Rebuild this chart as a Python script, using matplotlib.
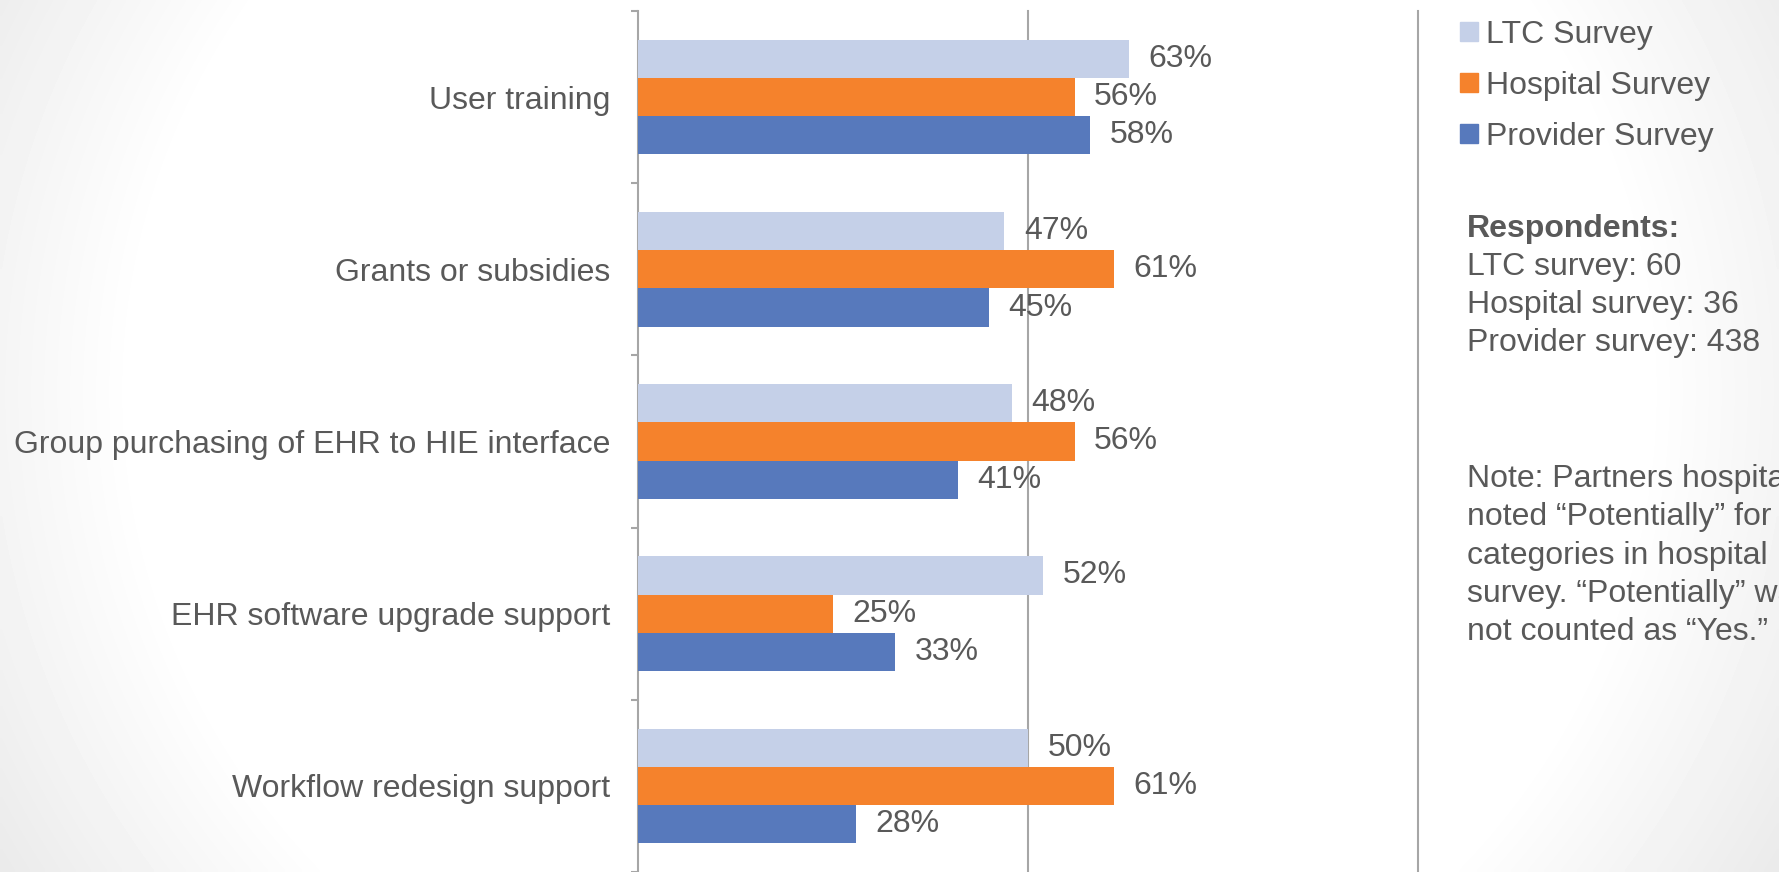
import numpy as np
import matplotlib
matplotlib.use("Agg")
import matplotlib.pyplot as plt
from matplotlib.patches import Patch

plt.rcParams['font.family'] = ['Liberation Sans', 'DejaVu Sans']

# data (percent of respondents)
categories = ["User training", "Grants or subsidies", "Group purchasing of EHR to HIE interface",
              "EHR software upgrade support", "Workflow redesign support"]
ltc = [63, 47, 48, 52, 50]
hospital = [56, 61, 56, 25, 61]
provider = [58, 45, 41, 33, 28]
series_names = ["LTC Survey", "Hospital Survey", "Provider Survey"]
respondents = ["LTC survey: 60", "Hospital survey: 36", "Provider survey: 438"]
note_lines = ["Note: Partners hospitals", "noted \u201cPotentially\u201d for all",
              "categories in hospital", "survey. \u201cPotentially\u201d was",
              "not counted as \u201cYes.\u201d"]

col_ltc = "#C5D0E8"
col_hosp = "#F5822C"
col_prov = "#5779BC"
txt = "#595959"
grid_col = "#A6A6A6"
fs = 23

fig = plt.figure(figsize=(17.79, 8.72), dpi=100)

# soft grey vignette in the background
bg = fig.add_axes([0, 0, 1, 1], zorder=-10)
gx, gy = np.meshgrid(np.linspace(0, 1, 400), np.linspace(0, 1, 200))
d = np.sqrt(((gx - 0.5) / 0.5) ** 2 + ((gy - 0.45) / 0.95) ** 2)
g = 1 - 0.08 * np.clip((d - 0.85) / 0.3, 0, 1)
bg.imshow(g, cmap="gray", vmin=0, vmax=1, extent=[0, 1, 0, 1], aspect="auto", interpolation="bilinear")
bg.axis("off")

ax = fig.add_axes([0.3585, 0.0, 0.797 - 0.3585, 0.9874])
ax.patch.set_alpha(0)

y = np.arange(len(categories))
h = 0.222
b1 = ax.barh(y - h, ltc, height=h, color=col_ltc, zorder=3)
b2 = ax.barh(y, hospital, height=h, color=col_hosp, zorder=3)
b3 = ax.barh(y + h, provider, height=h, color=col_prov, zorder=3)
for b in (b1, b2, b3):
    ax.bar_label(b, fmt="%d%%", padding=14, color=txt, fontsize=fs, zorder=5)

ax.set_xlim(0, 100)
ax.set_ylim(len(categories) - 0.5, -0.5)

for xv in (50, 100):
    ax.axvline(xv, color=grid_col, lw=1.5, zorder=1, clip_on=False)

for s in ("top", "right", "bottom"):
    ax.spines[s].set_visible(False)
ax.spines["left"].set_color(grid_col)
ax.spines["left"].set_linewidth(1.5)
ax.set_xticks([])

ax.set_yticks(np.arange(-0.5, len(categories), 1.0))
ax.set_yticklabels([])
ax.tick_params(axis="y", which="major", length=5, width=1.5, color=grid_col, direction="out")
ax.set_yticks(y, minor=True)
ax.set_yticklabels(categories, minor=True)
ax.tick_params(axis="y", which="minor", length=0, pad=20, labelsize=fs, labelcolor=txt)

handles = [Patch(color=col_ltc), Patch(color=col_hosp), Patch(color=col_prov)]
fig.legend(handles, series_names, loc="upper left", bbox_to_anchor=(1460 / 1779, 1 - 20 / 872),
           frameon=False, fontsize=fs, labelcolor=txt, handlelength=0.55, handleheight=0.55,
           handletextpad=0.25, labelspacing=0.66, borderpad=0, borderaxespad=0)

tx = 1467 / 1779
fig.text(tx, 1 - 229 / 872, "Respondents:", fontsize=fs, color=txt, weight="bold", va="center")
for i, line in enumerate(respondents):
    fig.text(tx, 1 - (267 + 38 * i) / 872, line, fontsize=fs, color=txt, va="center")
# the note runs past the right edge of the slide, as in the original
for i, line in enumerate(note_lines):
    fig.text(tx, 1 - (479 + 38.3 * i) / 872, line, fontsize=fs, color=txt, va="center")

fig.savefig("out.png", dpi=100)
